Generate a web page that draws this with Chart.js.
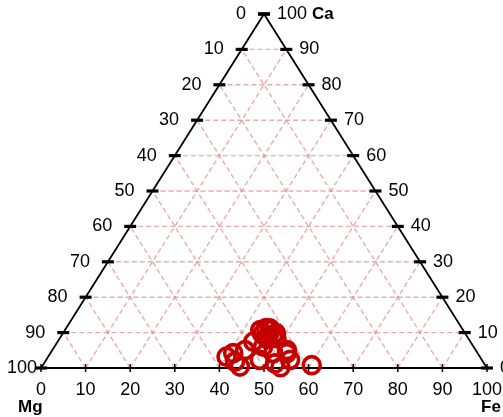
<!DOCTYPE html>
<html>
<head>
<meta charset="utf-8">
<script src="https://cdn.jsdelivr.net/npm/chart.js@4/dist/chart.umd.min.js"></script>
<style>
  body { margin: 0; background: #fff; }
  #wrap { width: 503px; height: 417px; position: relative; }
</style>
</head>
<body>
<div id="wrap"><canvas id="ternary"></canvas></div>
<script>
// compositions in percent (Mg = 100 - Fe - Ca)
const feValues = [40.0, 42.6, 41.0, 44.4, 43.2, 43.9, 43.8, 45.7, 46.6, 46.8, 47.9, 51.8, 53.0, 54.7, 53.6, 48.6, 50.0, 60.3,
                  44.8, 46.2, 47.5, 46.6, 47.7, 44.8, 52.6];
const caValues = [3.2, 1.8, 4.2, 0.4, 5.1, 7.4, 10.7, 11.2, 8.8, 6.0, 2.3, 1.3, 4.2, 2.3, 0.2, 8.4, 4.2, 0.8,
                  11.3, 10.7, 9.0, 8.2, 9.9, 9.6, 5.1];
const tickValues = [0, 10, 20, 30, 40, 50, 60, 70, 80, 90, 100];
const cornerLabels = ['Mg', 'Fe', 'Ca'];

// ternary -> cartesian (x along base, y = height in percent)
function toXY(fe, ca) {
    return { x: fe + ca / 2, y: ca };
}

const points = feValues.map((fe, i) => toXY(fe, caValues[i]));

const FONT = '"Liberation Sans", Arial, sans-serif';

function pixelFn(chart) {
    const sx = chart.scales.x, sy = chart.scales.y;
    return (fe, ca) => {
        const p = toXY(fe, ca);
        return [sx.getPixelForValue(p.x), sy.getPixelForValue(p.y)];
    };
}

const ternaryPlugin = {
    id: 'ternary',
    beforeDatasetsDraw(chart) {
        const ctx = chart.ctx;
        const px = pixelFn(chart);
        const line = (a, b) => {
            ctx.beginPath();
            ctx.moveTo(a[0], a[1]);
            ctx.lineTo(b[0], b[1]);
            ctx.stroke();
        };

        // grid
        ctx.save();
        ctx.strokeStyle = 'rgba(222, 145, 145, 0.75)';
        ctx.lineWidth = 1.4;
        ctx.setLineDash([5, 3]);
        tickValues.slice(1, -1).forEach(k => {
            line(px(0, k), px(100 - k, k));       // Ca = k
            line(px(k, 0), px(k, 100 - k));       // Fe = k
            line(px(100 - k, 0), px(0, 100 - k)); // Mg = k
        });
        ctx.restore();

        // triangle
        ctx.save();
        ctx.strokeStyle = '#000';
        ctx.lineWidth = 1.8;
        ctx.beginPath();
        const a = px(0, 0), b = px(100, 0), c = px(0, 100);
        ctx.moveTo(a[0], a[1]);
        ctx.lineTo(b[0], b[1]);
        ctx.lineTo(c[0], c[1]);
        ctx.closePath();
        ctx.stroke();

        // ticks
        ctx.lineWidth = 3.2;
        tickValues.forEach(v => {
            const l = px(0, 100 - v);   // left edge, Mg = v
            line([l[0] - 6, l[1]], [l[0] + 6, l[1]]);
            const r = px(100 - v, v);   // right edge, Ca = v
            line([r[0] - 6, r[1]], [r[0] + 6, r[1]]);
        });
        ctx.lineWidth = 1.5;
        tickValues.forEach(v => {
            const p = px(v, 0);
            line([p[0], p[1] - 4], [p[0], p[1] + 4]);
        });
        ctx.restore();
    },
    afterDraw(chart) {
        const ctx = chart.ctx;
        const px = pixelFn(chart);
        ctx.save();
        ctx.fillStyle = '#000';
        ctx.font = '18px ' + FONT;
        ctx.textBaseline = 'middle';

        // left (Mg)
        ctx.textAlign = 'left';
        tickValues.forEach(v => {
            const p = px(0, 100 - v);
            const txt = String(v);
            const w = ctx.measureText(txt).width;
            const x0 = Math.max(7, p[0] - 18 - w);
            ctx.fillText(txt, x0, p[1]);
        });
        // right (Ca)
        tickValues.forEach(v => {
            const p = px(100 - v, v);
            ctx.fillText(String(v), p[0] + 13, p[1]);
        });
        // bottom (Fe)
        ctx.textAlign = 'center';
        tickValues.forEach(v => {
            const p = px(v, 0);
            ctx.fillText(String(v), p[0], p[1] + 22);
        });

        // corner names
        const top = px(0, 100);
        const w100 = ctx.measureText('100').width;
        ctx.font = 'bold 17px ' + FONT;
        ctx.textAlign = 'left';
        ctx.fillText(cornerLabels[2], top[0] + 13 + w100 + 5, top[1]);
        const left = px(0, 0), right = px(100, 0);
        ctx.fillText(cornerLabels[0], 18, left[1] + 39);
        ctx.fillText(cornerLabels[1], right[0] - 6, right[1] + 39);
        ctx.restore();
    }
};

new Chart(document.getElementById('ternary').getContext('2d'), {
    type: 'scatter',
    data: {
        datasets: [{
            data: points,
            pointRadius: 8.5,
            pointHoverRadius: 8.5,
            borderWidth: 3.6,
            borderColor: '#c40000',
            backgroundColor: 'rgba(0,0,0,0)',
            clip: false
        }]
    },
    options: {
        responsive: true,
        maintainAspectRatio: false,
        animation: false,
        layout: { padding: { left: 41, right: 16, top: 14, bottom: 49 } },
        plugins: {
            legend: { display: false },
            tooltip: { enabled: false }
        },
        scales: {
            x: { type: 'linear', min: 0, max: 100, display: false },
            y: { type: 'linear', min: 0, max: 100, display: false }
        }
    },
    plugins: [ternaryPlugin]
});
</script>
</body>
</html>
